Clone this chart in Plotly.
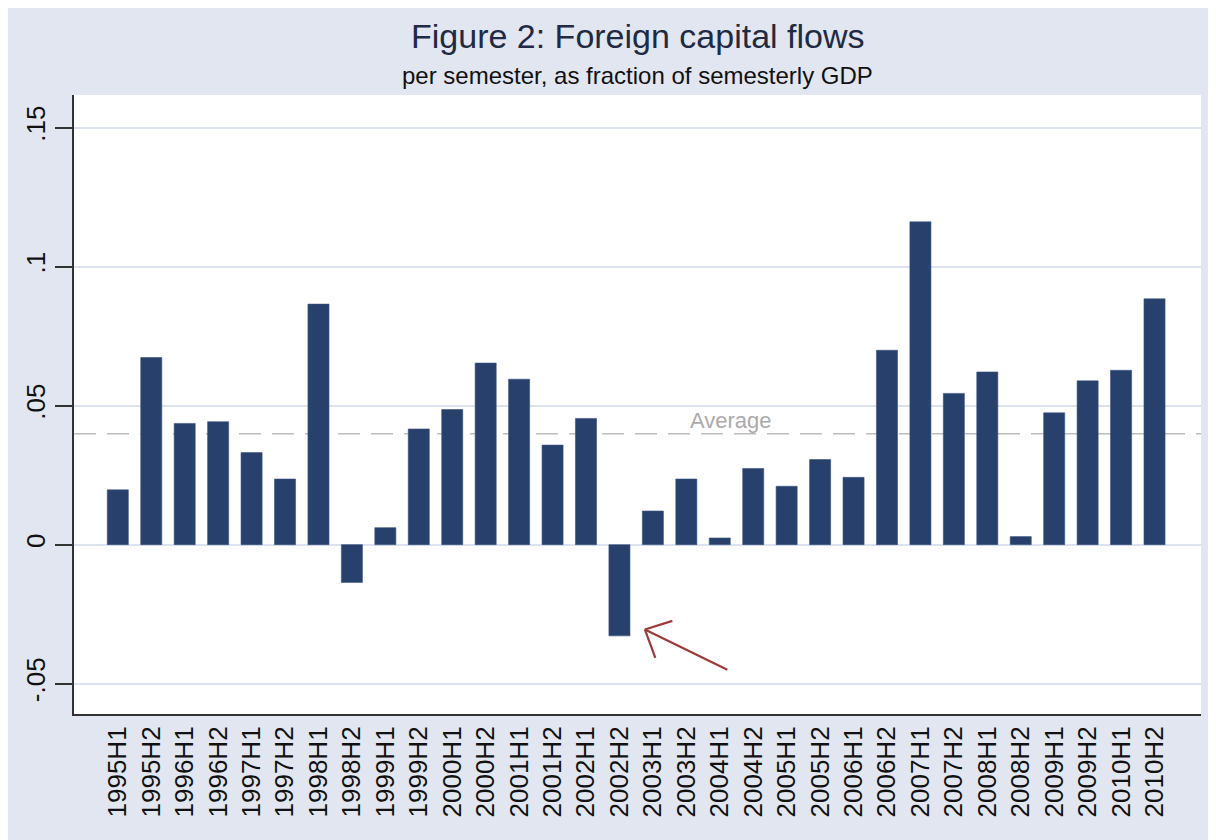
import plotly.graph_objects as go

categories = ["1995H1", "1995H2", "1996H1", "1996H2", "1997H1", "1997H2", "1998H1", "1998H2",
              "1999H1", "1999H2", "2000H1", "2000H2", "2001H1", "2001H2", "2002H1", "2002H2",
              "2003H1", "2003H2", "2004H1", "2004H2", "2005H1", "2005H2", "2006H1", "2006H2",
              "2007H1", "2007H2", "2008H1", "2008H2", "2009H1", "2009H2", "2010H1", "2010H2"]
flows = [0.0197, 0.0673, 0.0436, 0.0442, 0.0331, 0.0236, 0.0865, -0.0136,
         0.0061, 0.0416, 0.0486, 0.0653, 0.0595, 0.0358, 0.0454, -0.0328,
         0.0121, 0.0236, 0.0024, 0.0274, 0.0210, 0.0306, 0.0242, 0.0699,
         0.1161, 0.0544, 0.0621, 0.0029, 0.0474, 0.0589, 0.0627, 0.0884]
average = 0.0399
ytick_vals = [-0.05, 0, 0.05, 0.1, 0.15]
ytick_text = ["-.05", "0", ".05", ".1", ".15"]

W, H = 1216, 840
L, R, T, B = 66, 23, 87, 134
pw, ph = W - L - R, H - T - B

def px_y(p):
    return (H - B - p) / ph

bg = "#E1E6F0"
font = "Liberation Sans, Arial, sans-serif"

fig = go.Figure()
fig.add_trace(go.Bar(x=categories, y=flows, marker=dict(color="#27406C", line=dict(width=0.6, color="#3A5280")),
                     width=0.63, showlegend=False))

fig.add_hline(y=average, line=dict(color="#BDBDBD", width=1.6, dash="22px,11px"), layer="below")

fig.add_annotation(x=18.34, y=average, yshift=13, text="Average", showarrow=False,
                   font=dict(family=font, size=22, color="#ABABAB"), yanchor="middle")

# hand-drawn style arrow pointing at 2002H2: shaft and two open head strokes
arrow_tip = (15.76, -0.0305)
for ax, ay in [(84, 41), (29, -9), (11, 30)]:
    fig.add_annotation(x=arrow_tip[0], y=arrow_tip[1], ax=ax, ay=ay, axref="pixel", ayref="pixel",
                       text="", showarrow=True, arrowhead=0, arrowwidth=2.2,
                       arrowcolor="#9E3A3A", standoff=0, startstandoff=0)

fig.add_annotation(xref="paper", yref="paper", x=0.5, y=px_y(28), text="Figure 2: Foreign capital flows",
                   showarrow=False, font=dict(family=font, size=34, color="#1F2A44"), yanchor="middle")
fig.add_annotation(xref="paper", yref="paper", x=0.5, y=px_y(67),
                   text="per semester, as fraction of semesterly GDP",
                   showarrow=False, font=dict(family=font, size=24, color="#111111"), yanchor="middle")

fig.update_layout(
    width=W, height=H,
    margin=dict(l=L, r=R, t=T, b=B),
    paper_bgcolor=bg, plot_bgcolor="white",
    bargap=0.37,
    font=dict(family=font, color="#111111"),
)
fig.update_xaxes(type="category", range=[-1.31, 32.39], showgrid=False, showline=True,
                 linecolor="#333333", linewidth=2, ticks="", tickangle=-90,
                 tickfont=dict(family=font, size=26, color="#111111"), mirror=False)
fig.update_yaxes(range=[-0.0609, 0.1617], tickvals=ytick_vals, ticktext=ytick_text, tickangle=-90,
                 showgrid=True, gridcolor="#DCE3EE", gridwidth=2, zeroline=True, zerolinecolor="#DCE3EE",
                 zerolinewidth=2, showline=True, linecolor="#333333", linewidth=2,
                 ticks="outside", ticklen=17, tickwidth=1.5, tickcolor="#333333",
                 tickfont=dict(family=font, size=26, color="#111111"))

fig.write_html("out.html")
